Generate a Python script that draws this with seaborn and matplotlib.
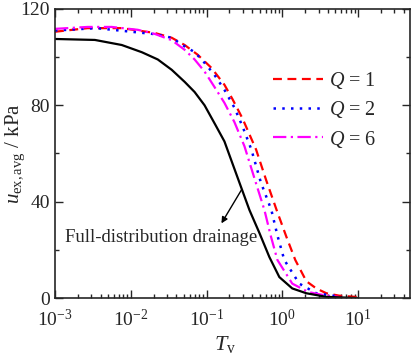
import matplotlib
matplotlib.use("Agg")
import matplotlib.pyplot as plt
import matplotlib.ticker as mticker
import numpy as np
import seaborn as sns

t_full = [1e-3, 0.00336, 0.0076, 0.014, 0.0227, 0.0347, 0.0514, 0.0695, 0.094, 0.13, 0.172, 0.21,
          0.272, 0.368, 0.498, 0.674, 0.912, 1.35, 2.07, 3.8, 10]
u_full = [107.5, 107.1, 105, 102, 99, 94.7, 89.7, 85.5, 80, 72, 65, 57.5,
          47.8, 36.5, 27, 17, 8.7, 4, 2, 0.5, 0]

t_q1 = [1e-3, 0.0027, 0.0076, 0.0207, 0.0347, 0.0514, 0.076, 0.116, 0.172, 0.22, 0.298, 0.45,
        0.61, 0.84, 1.13, 1.48, 2.07, 2.8, 3.8, 5.6, 11]
u_q1 = [110.5, 112, 112, 110, 108, 105, 101, 95.5, 88.5, 82.5, 74.5, 61.6,
        49, 36.5, 25.4, 15.8, 7, 4, 2, 1, 0.3]

t_q2 = [1e-3, 0.0035, 0.0207, 0.0347, 0.048, 0.07, 0.094, 0.127, 0.172, 0.233, 0.3, 0.39,
        0.52, 0.716, 0.86, 1.06, 1.67, 2.8, 4.6, 6]
u_q2 = [111, 112, 109.5, 108, 105, 102, 97.6, 92.6, 86.4, 79, 71, 61.6,
        48, 36.5, 26, 15.8, 6, 2, 1, 0.5]

t_q6 = [1e-3, 0.0027, 0.0056, 0.0124, 0.0207, 0.0347, 0.0514, 0.0695, 0.094, 0.127, 0.172, 0.233,
        0.316, 0.43, 0.58, 0.7, 0.86, 1.35, 2.2, 3.8, 5.5]
u_q6 = [111.7, 112.5, 112.5, 111.3, 109.6, 107, 103, 99, 94, 87.6, 81, 73,
        63, 49.5, 36.5, 26, 15.8, 6, 2.5, 1, 0.5]

labels = ["$Q$ = 1", "$Q$ = 2", "$Q$ = 6"]

sns.set_style("ticks")
plt.rcParams['font.family'] = ['Liberation Serif', 'DejaVu Serif']
plt.rcParams['mathtext.fontset'] = 'custom'
plt.rcParams['mathtext.rm'] = 'Liberation Serif'
plt.rcParams['mathtext.it'] = 'Liberation Serif:italic'
plt.rcParams['mathtext.bf'] = 'Liberation Serif:bold'

fig = plt.figure(figsize=(4.15, 3.54), dpi=100)
ax = fig.add_axes([0.1325, 0.158, 0.855, 0.817])
ax.set_xscale('log')

sns.lineplot(x=t_q1, y=u_q1, ax=ax, color='#ff0000', lw=1.6, linestyle=(0, (4, 2.5)), label=labels[0])
sns.lineplot(x=t_q2, y=u_q2, ax=ax, color='#0000ff', lw=1.8, linestyle=(0, (1, 2.5)), label=labels[1])
sns.lineplot(x=t_q6, y=u_q6, ax=ax, color='#ff00ff', lw=1.6, linestyle=(0, (6, 2, 1, 2)), label=labels[2])
sns.lineplot(x=t_full, y=u_full, ax=ax, color='black', lw=1.6)

ax.set_xlim(1e-3, 48)
ax.set_ylim(0, 120)
ax.set_yticks([0, 40, 80, 120])
ax.yaxis.set_minor_locator(mticker.MultipleLocator(20))
ax.xaxis.set_major_locator(mticker.LogLocator(base=10, numticks=10))
ax.xaxis.set_minor_locator(mticker.LogLocator(base=10, subs=np.arange(2, 10), numticks=20))
ax.xaxis.set_major_formatter(mticker.LogFormatterMathtext())
ax.xaxis.set_minor_formatter(mticker.NullFormatter())
ax.tick_params(which='both', direction='in', top=True, right=True, labelsize=14, width=1)
ax.tick_params(axis='x', pad=7.5)
ax.tick_params(which='major', length=6)
ax.tick_params(which='minor', length=3)
for s in ax.spines.values():
    s.set_linewidth(1.2)

ax.set_xlabel("$T_\\mathrm{v}$", fontsize=16)
ax.set_ylabel("$u_\\mathrm{ex,avg}$ / kPa", fontsize=15)
ax.xaxis.set_label_coords(0.48, -0.125)
ax.yaxis.set_label_coords(-0.08, 0.5)

ax.text(0.025, 25, "Full-distribution drainage", ha='center', va='center', fontsize=13.5)
# arrow from the curve down to the text
ax.annotate("", xy=(0.157, 31), xytext=(0.29, 45),
            arrowprops=dict(arrowstyle='-|>', color='black', lw=1, shrinkA=0, shrinkB=0,
                            mutation_scale=9))

ax.legend(loc='upper right', bbox_to_anchor=(0.93, 0.815), frameon=False, fontsize=14.5,
          handlelength=2.5, handletextpad=0.3, labelspacing=0.4, borderaxespad=0)

plt.savefig("out.png", dpi=100)
plt.close()
